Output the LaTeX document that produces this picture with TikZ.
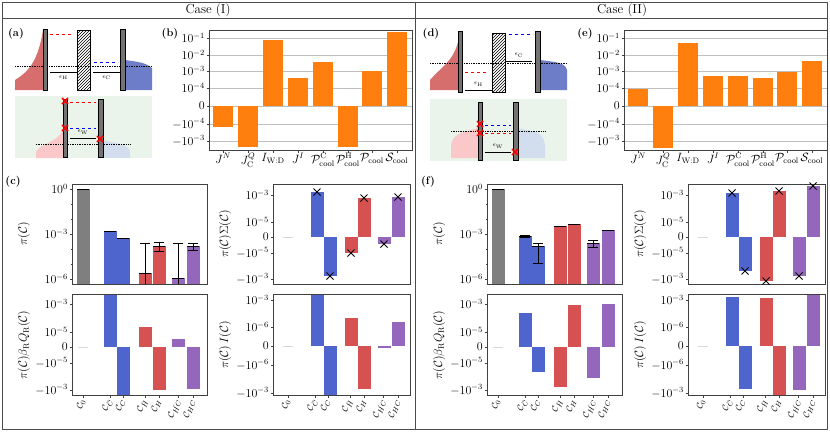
\documentclass[tikz,border=0pt]{standalone}
\usepackage{amsmath}
\usetikzlibrary{patterns,calc}
\definecolor{barorange}{RGB}{255,127,14}
\definecolor{barblue}{RGB}{77,101,205}
\definecolor{barred}{RGB}{214,82,82}
\definecolor{barpurple}{RGB}{148,103,189}
\definecolor{bargray}{RGB}{127,127,127}
\definecolor{greenbg}{RGB}{234,244,234}
\definecolor{fermired}{RGB}{214,110,110}
\definecolor{fermiblue}{RGB}{110,125,200}
\definecolor{pinkfill}{RGB}{250,200,200}
\definecolor{lightbluefill}{RGB}{210,222,238}
\tikzset{
  axbox/.style={draw=black!75, line width=0.6pt},
  gridline/.style={draw=black!25, line width=0.6pt},
  ticklab/.style={font=\fontsize{11.5}{11.5}\selectfont, anchor=east, inner sep=1.5pt},
  xlab/.style={font=\fontsize{11.5}{11.5}\selectfont, anchor=north, inner sep=1pt},
  clab/.style={font=\fontsize{9.5}{9.5}\selectfont, anchor=east, rotate=70, inner sep=1pt},
  ylab/.style={font=\fontsize{12}{12}\selectfont, rotate=90},
  panellab/.style={font=\fontsize{11}{11}\selectfont\bfseries},
  wall/.style={fill=black!55, draw=black, line width=0.5pt},
  hatchwall/.style={pattern=north east lines, draw=black, line width=1pt},
  levelline/.style={line width=0.8pt},
  errbar/.style={line width=0.8pt},
  xmark/.style={red, line width=1.6pt},
  bmark/.style={black, line width=0.8pt}
}
% symlog subplot: x0, x1, zero y, scale, u top, u bottom, ticks, bars
\newcommand{\symplot}[8]{%
  \begin{scope}[shift={(0,#3)}, yscale=-#4]
    \foreach \bx/\bu/\bc in {#8}
      \fill[\bc] (\bx-6.5,0) rectangle (\bx+6.5,\bu);
    \draw[axbox] (#1,#6) rectangle (#2,#5);
    \foreach \tu/\tl in {#7} {
      \draw[axbox] (#1,\tu) -- ++(-2.5,0);
      \node[ticklab] at (#1-2.5,\tu) {$\tl$};
    }
  \end{scope}}
\newcommand{\crossat}[2]{\draw[bmark] ($(#1,#2)+(-3.5,-3.5)$) -- ++(7,7) ($(#1,#2)+(-3.5,3.5)$) -- ++(7,-7);}
\begin{document}
\begin{tikzpicture}[x=1pt,y=-1pt]
\useasboundingbox (0,0) rectangle (830,432);

% frame
\draw[black!70, line width=0.8pt] (2,2) rectangle (827,429);
\draw[black!70, line width=0.8pt] (2,18) -- (827,18);
\draw[black!70, line width=0.8pt] (415,2) -- (415,429);
\node[font=\fontsize{13}{13}\selectfont] (caseI) at (208,10) {Case (I)};
\node[font=\fontsize{13}{13}\selectfont] (caseII) at (622,10) {Case (II)};

%%% Case (I) schematic (a)
\node[panellab] (la) at (16,34) {(a)};
\fill[fermired] (15,90) -- (15,80) .. controls (28,72) and (38,62) .. (43,30) -- (43,90) -- cycle;
\fill[fermiblue] (125,60) .. controls (140,62) and (146,63) .. (152,68) -- (152,90) -- (125,90) -- cycle;
\draw[densely dotted, line width=0.7pt] (15,66) -- (152,66);
\draw[wall] (43,29) rectangle (47,90);
\draw[hatchwall] (77,30) rectangle (90,90);
\draw[wall] (120,29) rectangle (125,90);
\draw[red, dashed, levelline] (50,34) -- (73,34);
\draw[blue, dashed, levelline] (94,62) -- (118,62);
\draw[levelline] (50,72) -- (77,72) node[midway, below=0pt, font=\fontsize{6}{6}\selectfont] {$\epsilon_{\mathrm{H}}$};
\draw[levelline] (93,72) -- (120,72) node[midway, below=0pt, font=\fontsize{6}{6}\selectfont] {$\epsilon_{\mathrm{C}}$};
\fill[greenbg] (15,96) rectangle (152,158);
\fill[pinkfill] (36,158) -- (36,152) .. controls (40,143) and (56,144) .. (63,130) -- (63,158) -- cycle;
\fill[lightbluefill] (103,140) .. controls (118,144) and (128,144) .. (130,152) -- (130,158) -- (103,158) -- cycle;
\draw[densely dotted, line width=0.7pt] (36,144) -- (130,144);
\draw[wall] (63,99) rectangle (67,157);
\draw[wall] (98,99) rectangle (103,157);
\draw[red, dashed, levelline] (70,102) -- (96,102);
\draw[blue, dashed, levelline] (70,128) -- (96,128);
\draw[levelline] (70,138) -- (96,138) node[midway, above=0pt, font=\fontsize{6}{6}\selectfont] {$\epsilon_{\mathrm{W}}$};
\foreach \mx/\my in {65/101, 65/128, 100/139}
  \draw[xmark] (\mx-3,\my-3) -- (\mx+3,\my+3) (\mx-3,\my+3) -- (\mx+3,\my-3);

%%% Case (II) schematic (d)
\node[panellab] (ld) at (431,34) {(d)};
\fill[fermired] (430,90) -- (430,80) .. controls (440,68) and (453,62) .. (458,42) -- (458,90) -- cycle;
\fill[fermiblue] (540,60) .. controls (555,62) and (565,62) .. (567,70) -- (567,90) -- (540,90) -- cycle;
\draw[densely dotted, line width=0.7pt] (430,63) -- (567,63);
\draw[wall] (458,31) rectangle (462,92);
\draw[hatchwall] (492,33) rectangle (505,92);
\draw[wall] (535,31) rectangle (540,92);
\draw[red, dashed, levelline] (465,72) -- (488,72);
\draw[blue, dashed, levelline] (509,34) -- (533,34);
\draw[levelline] (465,90) -- (492,90) node[midway, above=0pt, font=\fontsize{6}{6}\selectfont] {$\epsilon_{\mathrm{H}}$};
\draw[levelline] (506,61) -- (532,61) node[midway, above=0pt, font=\fontsize{6}{6}\selectfont] {$\epsilon_{\mathrm{C}}$};
\fill[greenbg] (430,99) rectangle (567,161);
\fill[pinkfill] (451,158) -- (451,145) .. controls (453,132) and (466,132) .. (478,128) -- (478,158) -- cycle;
\fill[lightbluefill] (518,128) .. controls (533,132) and (543,130) .. (545,145) -- (545,158) -- (518,158) -- cycle;
\draw[densely dotted, line width=0.7pt] (451,131) -- (545,131);
\draw[wall] (478,102) rectangle (482,160);
\draw[wall] (513,102) rectangle (518,160);
\draw[blue, dashed, levelline] (485,125) -- (511,125);
\draw[red, dashed, levelline] (485,133) -- (511,133);
\draw[levelline] (485,152) -- (511,152) node[midway, above=0pt, font=\fontsize{6}{6}\selectfont] {$\epsilon_{\mathrm{W}}$};
\foreach \mx/\my in {480/124, 480/133, 515/152}
  \draw[xmark] (\mx-3,\my-3) -- (\mx+3,\my+3) (\mx-3,\my+3) -- (\mx+3,\my-3);

%%% panels (b) and (e)
\foreach \cs/\lab/\bars in {0/b/{223/127,248/147,273/40,298/78,323/62,348/147,372/71,397/32},
                            415/e/{223/89,248/148,273/43,298/76,323/76,348/78,372/72,397/61}} {
  \begin{scope}[xshift=\cs]
    \node[panellab] at (170,34) {(\lab)};
    \foreach \gy in {38,55,71,88,106,124,141}
      \draw[gridline] (209,\gy) -- (412,\gy);
    \foreach \bx/\by in \bars
      \fill[barorange] (\bx-10,106) rectangle (\bx+10,\by);
    \draw[axbox] (209,30) rectangle (412,150);
    \foreach \gy/\gl in {38/10^{-1},55/10^{-2},71/10^{-3},88/10^{-4},106/0,124/-10^{-4},141/-10^{-3}} {
      \draw[axbox] (209,\gy) -- ++(-2.5,0);
      \node[ticklab] at (206.5,\gy) {$\gl$};
    }
    \foreach \bx/\bl in {223/J^N,248/J_{\mathrm{C}}^{Q},273/I_{\mathrm{W:D}},298/J^I,323/\mathcal{P}_{\mathrm{cool}}^{\mathrm{C}},348/\mathcal{P}_{\mathrm{cool}}^{\mathrm{H}},372/\mathcal{P}_{\mathrm{cool}},397/\mathcal{S}_{\mathrm{cool}}} {
      \draw[axbox] (\bx,150) -- ++(0,2.5);
      \node[xlab, inner sep=0pt] at (\bx,153) {$\bl$};
    }
  \end{scope}
}

%%% panels (c) and (f): tick labels below
\foreach \cs/\lab in {0/c,415/f} {
  \begin{scope}[xshift=\cs]
    \node[panellab] at (13,182) {(\lab)};
    \node[ylab] at (24,234) {$\pi(\mathcal{C})$};
    \node[ylab] at (24,345) {$\pi(\mathcal{C})\beta_{\mathrm{R}}Q_{\mathrm{R}}(\mathcal{C})$};
    \node[ylab] at (225,234) {$\pi(\mathcal{C})\Sigma(\mathcal{C})$};
    \node[ylab] at (225,345) {$\pi(\mathcal{C})\,I(\mathcal{C})$};
    \foreach \ox in {0,205} {
      \foreach \bx/\bl in {83/\mathcal{C}_0,110/\mathcal{C}_{\bar{C}},123/\mathcal{C}_C,145/\mathcal{C}_{\bar{H}},159/\mathcal{C}_H,178/\mathcal{C}_{\bar{HC}},193/\mathcal{C}_{HC}} {
        \draw[axbox] (\bx+\ox,395) -- ++(0,2.5);
        \node[clab] at (\bx+\ox,399) {$\bl$};
      }
    }
    % zero lines at C_0
    \draw[black!15, line width=0.6pt] (78,347) -- (88,347);
    \draw[black!15, line width=0.6pt] (283,237) -- (293,237);
    \draw[black!15, line width=0.6pt] (283,346) -- (293,346);
  \end{scope}
}

%%% top-left log panels with error bars
\foreach \cs/\bars in {0/{83/189/189/189/bargray,110/231/231/231/barblue,123/238/238/238/barblue,145/273/243/284/barred,159/246/242/251/barred,178/278/243/284/barpurple,193/246/243/250/barpurple},
                      415/{83/189/189/189/bargray,110/236/235/237/barblue,123/246/243/263/barblue,145/226/226/226/barred,159/224/224/224/barred,178/243/240/247/barpurple,193/230/230/230/barpurple}} {
  \begin{scope}[xshift=\cs]
    \foreach \bx/\by/\et/\eb/\bc in \bars {
      \fill[\bc] (\bx-6.5,284) rectangle (\bx+6.5,\by);
      \draw[errbar] (\bx,\et) -- (\bx,\eb) (\bx-5,\et) -- (\bx+5,\et);
      \draw[errbar] (\bx-5,\eb) -- (\bx+5,\eb);
      \draw[errbar] (\bx-6,\by) -- (\bx+6,\by);
    }
    \draw[axbox] (72,184) rectangle (207,284);
    \foreach \gy/\gl in {189/10^{0},234/10^{-3},279/10^{-6}} {
      \draw[axbox] (72,\gy) -- ++(-2.5,0);
      \node[ticklab] at (69.5,\gy) {$\gl$};
    }
    \foreach \gy in {204,219,249,264}
      \draw[axbox] (72,\gy) -- ++(-1.5,0);
  \end{scope}
}

%%% Case (I) symlog panels
\symplot{273}{410}{237}{42}{1.26}{-1.12}{1/10^{-3},0.36/10^{-5},0/0,-0.38/-10^{-5},-1/-10^{-3}}
  {317/1.07/barblue,330/-0.93/barblue,351/-0.38/barred,364/0.93/barred,384/-0.17/barpurple,398/0.95/barpurple}
\foreach \mx/\my in {317/192,330/276,351/253,364/198,384/244,398/197}
  {\crossat{\mx}{\my}}
\symplot{72}{207}{347}{43}{1.23}{-1.12}{1/10^{-3},0.35/10^{-5},0/0,-0.37/-10^{-5},-1/-10^{-3}}
  {110/1.23/barblue,123/-1.12/barblue,145/0.47/barred,159/-1.0/barred,178/0.19/barpurple,193/-0.98/barpurple}
\symplot{273}{410}{346}{46}{1.13}{-1.07}{1/10^{-3},0.41/10^{-6},0/0,-0.41/-10^{-6},-1.02/-10^{-3}}
  {317/1.13/barblue,330/-1.07/barblue,351/0.61/barred,364/-0.93/barred,384/-0.04/barpurple,398/0.52/barpurple}

%%% Case (II) symlog panels
\begin{scope}[xshift=415]
\symplot{273}{410}{237}{42}{1.26}{-1.12}{1/10^{-3},0.36/10^{-5},0/0,-0.38/-10^{-5},-1/-10^{-3}}
  {317/1.04/barblue,330/-0.82/barblue,351/-1.04/barred,364/1.1/barred,384/-0.93/barpurple,398/1.21/barpurple}
\foreach \mx/\my in {317/193,330/271,351/281,364/191,384/276,398/186}
  {\crossat{\mx}{\my}}
\symplot{72}{207}{347}{43}{1.23}{-1.12}{1/10^{-3},0.35/10^{-5},0/0,-0.37/-10^{-5},-1/-10^{-3}}
  {110/0.78/barblue,123/-0.58/barblue,145/-0.92/barred,159/0.98/barred,178/-0.72/barpurple,193/1.0/barpurple}
\symplot{273}{410}{346}{46}{1.13}{-1.07}{1/10^{-3},0.41/10^{-6},0/0,-0.41/-10^{-6},-1.02/-10^{-3}}
  {317/1.07/barblue,330/-0.93/barblue,351/1.04/barred,364/-1.07/barred,384/-0.96/barpurple,398/1.13/barpurple}
\end{scope}

\end{tikzpicture}
\end{document}
